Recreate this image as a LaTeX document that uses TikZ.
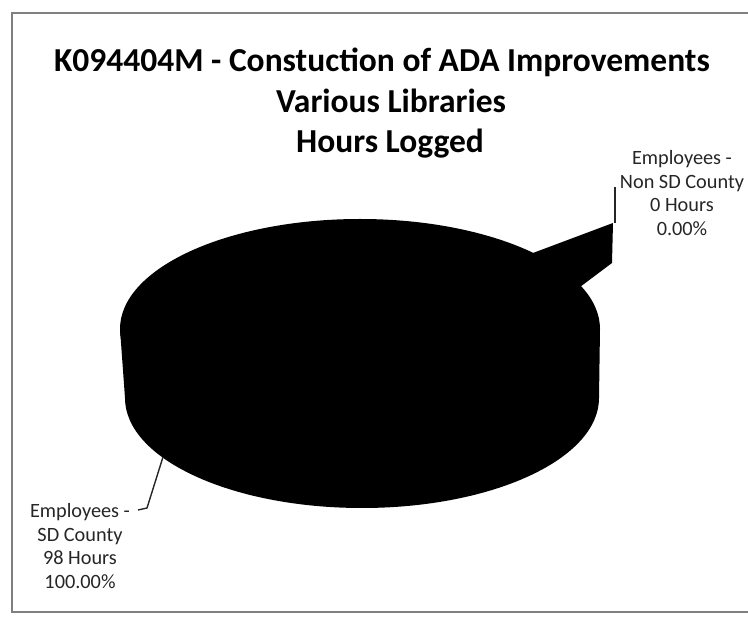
\documentclass[tikz,border=0pt]{standalone}
\usepackage{fontspec}
\setmainfont{Carlito}
\begin{document}
\begin{tikzpicture}[x=1pt,y=-1pt,
  titletext/.style={font=\fontsize{33.5}{40.5}\selectfont\bfseries, inner sep=0pt, anchor=base, text=black},
  labeltext/.style={font=\fontsize{20.3}{23.8}\selectfont, align=center, inner sep=0pt, text=black!85},
  leader/.style={line width=1.4pt, black!85},
  framepen/.style={line width=1.8pt, black!50}]
\useasboundingbox (0,0) rectangle (748,617);
% frame
\draw[framepen] (748,13) -- (12,13) -- (12,612) -- (748,612);
% title
\node[titletext] (title1) at (382,72) {K094404M - Constuction of ADA Improvements};
\node[titletext] (title2) at (391,113) {Various Libraries};
\node[titletext] (title3) at (390,153) {Hours Logged};
% pie body (3D)
\fill[black] (362,398) ellipse [x radius=237, y radius=110];
\fill[black] (120,329) -- (600,329) -- (599,398) -- (125,398) -- cycle;
\fill[black] (360,329) ellipse [x radius=240, y radius=110];
% exploded zero slice
\fill[black] (533,253) -- (613,223) -- (612,263) -- (580,287) -- cycle;
% labels
\node[labeltext] (lnon) at (682,193) {Employees -\\Non SD County\\0 Hours\\0.00\%};
\node[labeltext] (lsd) at (80,546) {Employees -\\SD County\\98 Hours\\100.00\%};
% leader lines
\coordinate (nonA) at (615,187);
\coordinate (nonB) at (615,223);
\draw[leader] (nonA) -- (nonB);
\coordinate (sdA) at (163,457);
\coordinate (sdB) at (147,508);
\coordinate (sdC) at (138,510);
\draw[leader] (sdA) -- (sdB) -- (sdC);
\end{tikzpicture}
\end{document}
